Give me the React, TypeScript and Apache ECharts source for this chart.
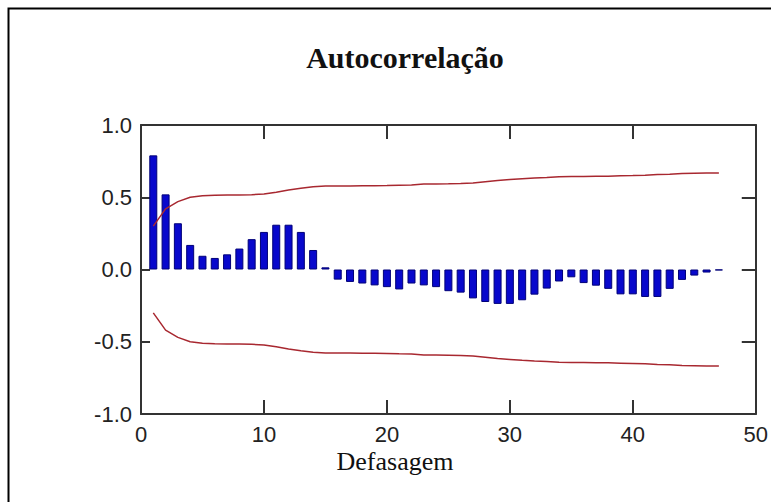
import React, { useEffect, useRef } from "react";
import * as echarts from "echarts";

const lags = [
  1, 2, 3, 4, 5, 6, 7, 8, 9, 10, 11, 12, 13, 14, 15, 16, 17, 18, 19, 20, 21, 22, 23, 24,
  25, 26, 27, 28, 29, 30, 31, 32, 33, 34, 35, 36, 37, 38, 39, 40, 41, 42, 43, 44, 45, 46, 47,
];

const acf = [
  0.79, 0.52, 0.32, 0.17, 0.095, 0.08, 0.105, 0.145, 0.21, 0.26, 0.31, 0.31, 0.26, 0.135,
  0.015, -0.07, -0.086, -0.097, -0.11, -0.122, -0.138, -0.097, -0.11, -0.122, -0.15, -0.16,
  -0.2, -0.225, -0.238, -0.238, -0.213, -0.174, -0.132, -0.083, -0.054, -0.094, -0.112,
  -0.134, -0.172, -0.172, -0.19, -0.19, -0.134, -0.072, -0.042, -0.021, -0.006,
];

const upperBand = [
  0.3, 0.42, 0.47, 0.5, 0.51, 0.513, 0.515, 0.516, 0.518, 0.522, 0.535, 0.55, 0.562, 0.572,
  0.577, 0.578, 0.578, 0.579, 0.58, 0.581, 0.583, 0.585, 0.592, 0.592, 0.593, 0.595, 0.598,
  0.607, 0.616, 0.622, 0.628, 0.633, 0.636, 0.642, 0.643, 0.644, 0.645, 0.646, 0.648, 0.65,
  0.653, 0.657, 0.66, 0.665, 0.666, 0.667, 0.667,
];

const lowerBand = [
  -0.3, -0.42, -0.47, -0.5, -0.51, -0.513, -0.515, -0.516, -0.518, -0.522, -0.535, -0.55,
  -0.562, -0.572, -0.577, -0.578, -0.578, -0.579, -0.58, -0.581, -0.583, -0.585, -0.592,
  -0.592, -0.593, -0.595, -0.598, -0.607, -0.616, -0.622, -0.628, -0.633, -0.636, -0.642,
  -0.643, -0.644, -0.645, -0.646, -0.648, -0.65, -0.653, -0.657, -0.66, -0.665, -0.666,
  -0.667, -0.667,
];

const xTicks = { min: 0, max: 50, interval: 10 };
const yTicks = { min: -1, max: 1, interval: 0.5 };

const titleText = "Autocorrelação";
const xName = "Defasagem";

export default function App() {
  const ref = useRef<HTMLDivElement>(null);

  useEffect(() => {
    if (!ref.current) return;
    const chart = echarts.init(ref.current, null, { renderer: "svg" });
    const axisColor = "#333";
    const sans = "'Liberation Sans', Arial, sans-serif";
    const serif = "'Liberation Serif', 'Times New Roman', serif";

    const line = { show: true, onZero: false, lineStyle: { color: axisColor, width: 2 } };
    const tick = (length: number) => ({
      show: true,
      inside: true,
      length,
      lineStyle: { color: axisColor, width: 2 },
    });

    chart.setOption({
      animation: false,
      backgroundColor: "#ffffff",
      grid: { left: 141, top: 125, width: 620, height: 289 },
      xAxis: [
        {
          type: "value",
          position: "bottom",
          min: xTicks.min,
          max: xTicks.max,
          interval: xTicks.interval,
          axisLine: line,
          axisTick: tick(14),
          axisLabel: { color: "#222", fontFamily: sans, fontSize: 22, margin: 9 },
          splitLine: { show: false },
        },
        {
          type: "value",
          position: "top",
          min: xTicks.min,
          max: xTicks.max,
          interval: xTicks.interval,
          axisLine: line,
          axisTick: tick(14),
          axisLabel: { show: false },
          splitLine: { show: false },
        },
      ],
      yAxis: [
        {
          type: "value",
          position: "left",
          min: yTicks.min,
          max: yTicks.max,
          interval: yTicks.interval,
          axisLine: line,
          axisTick: tick(9),
          axisLabel: {
            color: "#222",
            fontFamily: sans,
            fontSize: 22,
            margin: 9,
            formatter: (v: number) => v.toFixed(1),
          },
          splitLine: { show: false },
        },
        {
          type: "value",
          position: "right",
          min: yTicks.min,
          max: yTicks.max,
          interval: yTicks.interval,
          axisLine: line,
          axisTick: tick(14),
          axisLabel: { show: false },
          splitLine: { show: false },
        },
      ],
      graphic: [
        {
          type: "rect",
          shape: { x: 8.5, y: 8.5, width: 800, height: 600 },
          style: { fill: "none", stroke: "#000", lineWidth: 2 },
          silent: true,
        },
        {
          type: "text",
          x: 405,
          y: 57,
          style: {
            text: titleText,
            font: `bold 30px ${serif}`,
            fill: "#111",
            textAlign: "center",
            textVerticalAlign: "middle",
          },
        },
        {
          type: "text",
          x: 395,
          y: 461,
          style: {
            text: xName,
            font: `26px ${serif}`,
            fill: "#111",
            textAlign: "center",
            textVerticalAlign: "middle",
          },
        },
      ],
      series: [
        {
          type: "bar",
          xAxisIndex: 0,
          yAxisIndex: 0,
          barWidth: 8,
          data: lags.map((l, i) => [l, acf[i]]),
          itemStyle: { color: "#0808cc", borderColor: "#000078", borderWidth: 1 },
        },
        {
          type: "line",
          xAxisIndex: 0,
          yAxisIndex: 0,
          data: lags.map((l, i) => [l, upperBand[i]]),
          showSymbol: false,
          symbol: "none",
          lineStyle: { color: "#a82830", width: 1.5 },
        },
        {
          type: "line",
          xAxisIndex: 0,
          yAxisIndex: 0,
          data: lags.map((l, i) => [l, lowerBand[i]]),
          showSymbol: false,
          symbol: "none",
          lineStyle: { color: "#a82830", width: 1.5 },
        },
      ],
    });

    return () => chart.dispose();
  }, []);

  return (
    <div
      ref={ref}
      style={{ position: "fixed", left: 0, top: 0, width: 771, height: 502, overflow: "hidden" }}
    />
  );
}
